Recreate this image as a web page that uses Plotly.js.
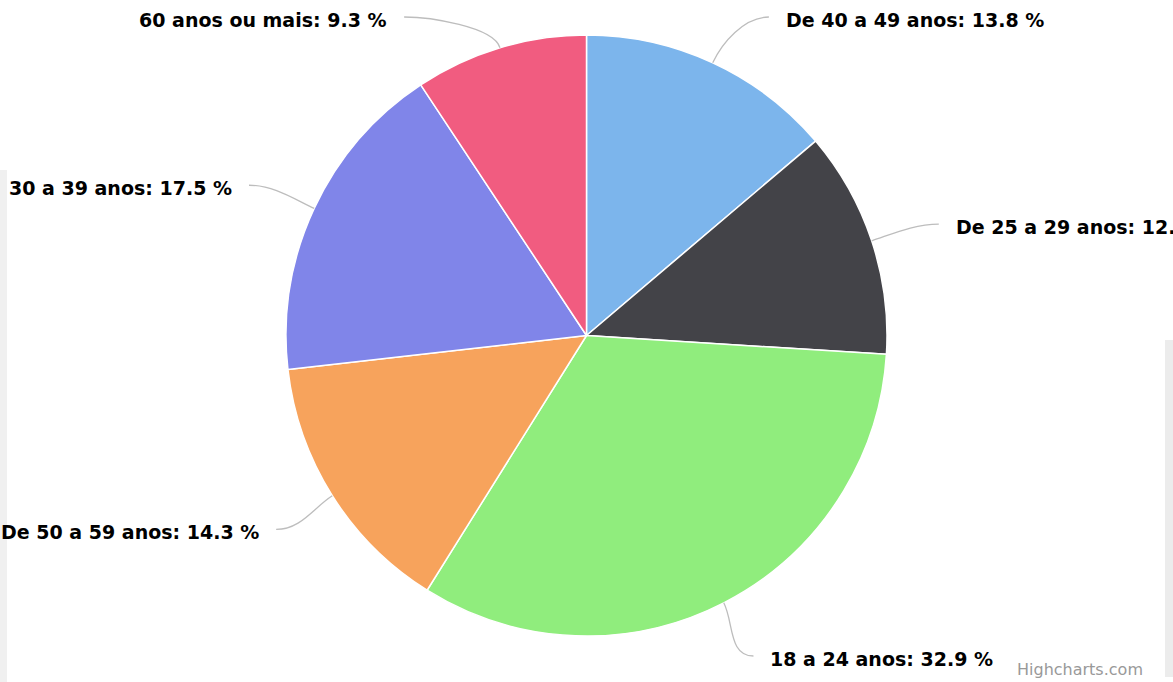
<!DOCTYPE html>
<html>
<head>
<meta charset="utf-8">
<script src="https://cdn.plot.ly/plotly-3.0.1.min.js"></script>
<style>html,body{margin:0;padding:0;background:#fff;}#chart{width:1173px;height:682px;}</style>
</head>
<body>
<div id="chart"></div>
<script>
// ---- data ----
const categories = ["De 40 a 49 anos", "De 25 a 29 anos", "18 a 24 anos", "De 50 a 59 anos", "30 a 39 anos", "60 anos ou mais"];
const shares = [13.8, 12.2, 32.9, 14.3, 17.5, 9.3];
const sliceColors = ["#7cb5ec", "#434348", "#90ed7d", "#f7a35c", "#8085e9", "#f15c80"];
const creditText = "Highcharts.com";

// ---- layout geometry (pixels) ----
const W = 1173, H = 682;
const cx = 586.5, cy = 335.5, r = 300.5;
const labelRadius = 360, textGap = 24, lineGap = 9, labelTop = 20, labelBottom = 659, labelShiftY = 5;

const px = x => x / W;
const py = y => 1 - y / H;

const total = shares.reduce((a, b) => a + b, 0);
const annotations = [];
const shapes = [];
let cum = 0;
shares.forEach((v, i) => {
  const mid = (cum + v / 2) / total * 2 * Math.PI;
  cum += v;
  const s = Math.sin(mid), c = Math.cos(mid);
  const side = s >= 0 ? 1 : -1;
  let ly = cy - labelRadius * c + labelShiftY;
  ly = Math.max(labelTop, Math.min(labelBottom, ly));
  const dy = ly - cy;
  const dx = Math.sqrt(Math.max(0, labelRadius * labelRadius - dy * dy));
  const tx = cx + side * (dx + textGap);
  const ex = cx + side * (dx + lineGap), ey = ly - 3;
  const e0x = cx + r * s, e0y = cy - r * c;
  const p1x = cx + (r + 22) * s, p1y = cy - (r + 22) * c;
  const p2x = ex - side * 25, p2y = ey;
  shapes.push({
    type: "path", xref: "paper", yref: "paper", layer: "above",
    path: `M ${px(e0x)},${py(e0y)} C ${px(p1x)},${py(p1y)} ${px(p2x)},${py(p2y)} ${px(ex)},${py(ey)}`,
    line: {color: "#bdbdbd", width: 1.3}
  });
  annotations.push({
    xref: "paper", yref: "paper", x: px(tx), y: py(ly),
    xanchor: side > 0 ? "left" : "right", yanchor: "middle",
    showarrow: false,
    text: "<b>" + categories[i] + ": " + v.toFixed(1) + " %</b>",
    font: {family: "DejaVu Sans, sans-serif", size: 19, color: "#000"}
  });
});

annotations.push({
  xref: "paper", yref: "paper", x: px(1145), y: py(669),
  xanchor: "right", yanchor: "middle", showarrow: false,
  text: creditText,
  font: {family: "DejaVu Sans, sans-serif", size: 16, color: "#999999"}
});

// faint background edges
shapes.push({type: "rect", xref: "paper", yref: "paper", layer: "below",
  x0: px(1165), x1: 1, y0: py(677), y1: py(340), line: {width: 0}, fillcolor: "#ececec"});
shapes.push({type: "rect", xref: "paper", yref: "paper", layer: "below",
  x0: 0, x1: px(7), y0: py(682), y1: py(170), line: {width: 0}, fillcolor: "#f0f0f0"});

const trace = {
  type: "pie",
  labels: categories,
  values: shares,
  sort: false,
  direction: "clockwise",
  rotation: 0,
  textinfo: "none",
  hoverinfo: "label+percent",
  marker: {colors: sliceColors, line: {color: "#ffffff", width: 1.5}},
  domain: {x: [px(cx - r), px(cx + r)], y: [py(cy + r), py(cy - r)]}
};

Plotly.newPlot("chart", [trace], {
  width: W, height: H,
  margin: {l: 0, r: 0, t: 0, b: 0},
  paper_bgcolor: "#ffffff",
  showlegend: false,
  annotations: annotations,
  shapes: shapes
}, {displayModeBar: false, staticPlot: true});
</script>
</body>
</html>
